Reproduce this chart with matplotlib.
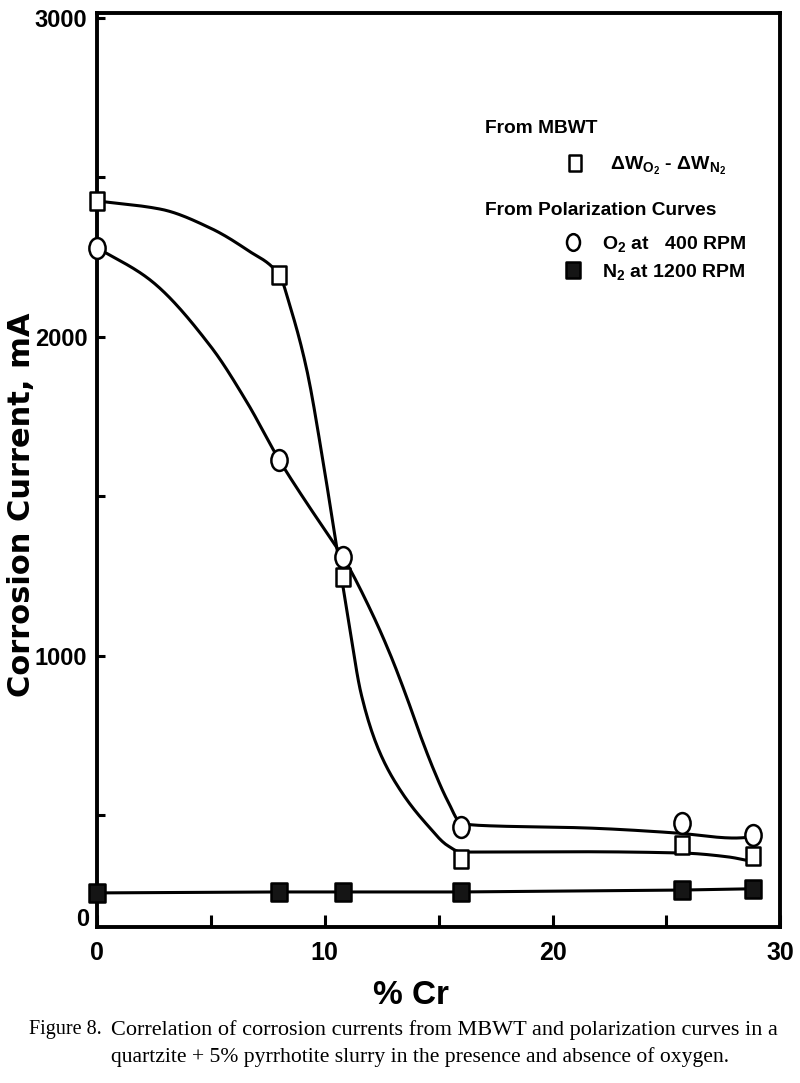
import numpy as np
import matplotlib.pyplot as plt
from matplotlib.path import Path
from matplotlib.lines import Line2D

plt.rcParams['font.family'] = ['Liberation Sans', 'DejaVu Sans']
plt.rcParams['mathtext.fontset'] = 'custom'
plt.rcParams['mathtext.rm'] = 'Liberation Sans:bold'
plt.rcParams['mathtext.it'] = 'Liberation Sans:bold'
plt.rcParams['mathtext.bf'] = 'Liberation Sans:bold'

# measured points (% Cr vs corrosion current, mA)
cr = [0, 8, 10.8, 16, 25.7, 28.8]
mbwt = [2426, 2194, 1248, 364, 407, 373]
o2_400 = [2279, 1614, 1310, 464, 476, 439]
n2_1200 = [257, 260, 260, 260, 266, 270]

# hand drawn fit curves
mbwt_fit_x = [0, 2.8, 5.0, 6.6, 8.0, 8.5, 9.2, 9.9, 10.5, 11.0, 11.6, 12.4, 13.4, 14.5, 15.4, 16.0, 21.3, 25.7, 27.7, 28.8]
mbwt_fit_y = [2426, 2400, 2340, 2272, 2194, 2090, 1900, 1620, 1350, 1130, 880, 700, 570, 470, 405, 385, 386, 382, 370, 355]
o2_fit_x = [0, 2.3, 5.0, 6.6, 8.0, 9.2, 10.3, 10.8, 12.1, 12.9, 13.6, 14.2, 14.8, 15.4, 16.0, 17.0, 21.3, 25.4, 28.0, 28.8]
o2_fit_y = [2279, 2180, 1969, 1793, 1614, 1480, 1364, 1310, 1130, 1000, 870, 750, 640, 545, 475, 468, 461, 445, 429, 432]

caption1 = "Correlation of corrosion currents from MBWT and polarization curves in a"
caption2 = "quartzite + 5% pyrrhotite slurry in the presence and absence of oxygen."


def smooth(x, y, n=400):
    # monotone cubic (Fritsch-Carlson) through the traced points
    x = np.asarray(x, float)
    y = np.asarray(y, float)
    h = np.diff(x)
    d = np.diff(y) / h
    m = np.zeros_like(y)
    m[0], m[-1] = d[0], d[-1]
    for k in range(1, len(x) - 1):
        if d[k - 1] * d[k] > 0:
            w1 = 2 * h[k] + h[k - 1]
            w2 = h[k] + 2 * h[k - 1]
            m[k] = (w1 + w2) / (w1 / d[k - 1] + w2 / d[k])
    xs = np.linspace(x[0], x[-1], n)
    i = np.clip(np.searchsorted(x, xs) - 1, 0, len(h) - 1)
    t = (xs - x[i]) / h[i]
    ys = ((2 * t**3 - 3 * t**2 + 1) * y[i] + (t**3 - 2 * t**2 + t) * h[i] * m[i]
          + (-2 * t**3 + 3 * t**2) * y[i + 1] + (t**3 - t**2) * h[i] * m[i + 1])
    return xs, ys


# slightly tall markers, as in the scanned figure
box = Path([(-0.42, -0.5), (0.42, -0.5), (0.42, 0.5), (-0.42, 0.5), (-0.42, -0.5)],
           [Path.MOVETO, Path.LINETO, Path.LINETO, Path.LINETO, Path.CLOSEPOLY])
uc = Path.unit_circle()
oval = Path(uc.vertices * [0.78, 1.0], uc.codes)

fig = plt.figure(figsize=(8, 10.83), dpi=100)
ax = fig.add_axes([0.1213, 0.144, 0.854, 0.844])

lw = 2.2
ax.plot(*smooth(mbwt_fit_x, mbwt_fit_y), color='black', lw=lw, zorder=2)
ax.plot(*smooth(o2_fit_x, o2_fit_y), color='black', lw=lw, zorder=2)
ax.plot(cr, n2_1200, color='black', lw=lw, zorder=2)

mk = dict(ls='none', mec='black', mew=1.8, clip_on=False, zorder=5)
ax.plot(cr, mbwt, marker=box, ms=12.5, mfc='white', **mk)
ax.plot(cr, o2_400, marker=oval, ms=15, mfc='white', **mk)
ax.plot(cr, n2_1200, marker=box, ms=13, mfc='#151515', **mk)

ax.set_xlim(0, 30)
ax.set_ylim(150, 3015)
ax.set_xticks([0, 10, 20, 30])
ax.set_xticks([5, 15, 25], minor=True)
ax.set_yticks([1000, 2000, 3000])
ax.set_yticks([500, 1500, 2500], minor=True)

for s in ax.spines.values():
    s.set_linewidth(2.8)
ax.tick_params(which='both', direction='in', width=2.2, colors='black')
ax.tick_params(axis='x', which='both', length=9, pad=10, labelsize=18)
ax.tick_params(axis='y', which='both', length=6, pad=7, labelsize=17)
for lab in ax.get_xticklabels() + ax.get_yticklabels():
    lab.set_fontweight('bold')
ax.text(-0.012, 0.008, "0", transform=ax.transAxes, ha='right', va='center',
        fontsize=17, fontweight='bold')

ax.set_ylabel("Corrosion Current, mA", family='DejaVu Sans', fontsize=22, fontweight='bold')
ax.yaxis.set_label_coords(-0.09, 0.462)
ax.set_xlabel("% Cr", fontsize=24, fontweight='bold')
ax.xaxis.set_label_coords(0.46, -0.058)

# legend: two headers, each over its own group of entries
ax.text(0.568, 0.874, "From MBWT", transform=ax.transAxes, fontsize=13.8,
        fontweight='bold', va='center')
ax.text(0.568, 0.784, "From Polarization Curves", transform=ax.transAxes, fontsize=13.8,
        fontweight='bold', va='center')

h_sq = Line2D([], [], ls='none', marker=box, ms=11, mfc='white', mec='black', mew=1.8)
h_o2 = Line2D([], [], ls='none', marker=oval, ms=12, mfc='white', mec='black', mew=1.8)
h_n2 = Line2D([], [], ls='none', marker=box, ms=12, mfc='#151515', mec='black', mew=1.8)
lab_font = dict(weight='bold', size=14)
fs_px = 14 * 100 / 72

leg1 = ax.legend([h_sq], [r'$\Delta$W$_{\mathrm{O}_2}$ - $\Delta$W$_{\mathrm{N}_2}$'],
                 prop=lab_font, loc='center left', bbox_to_anchor=((565 - 97) / 683, 0.833),
                 frameon=False, borderpad=0, borderaxespad=0,
                 handlelength=1.0, handletextpad=(610 - 565 - fs_px) / fs_px)
ax.add_artist(leg1)
ax.legend([h_o2, h_n2], [r'O$_2$ at   400 RPM', r'N$_2$ at 1200 RPM'],
          prop=lab_font, loc='center left', bbox_to_anchor=((563 - 97) / 683, 0.732),
          frameon=False, borderpad=0, borderaxespad=0, labelspacing=0.41,
          handlelength=1.0, handletextpad=(602 - 563 - fs_px) / fs_px)

fig.text(0.036, 0.049, "Figure 8.", family='Liberation Serif', fontsize=14.5, va='center')
fig.text(0.139, 0.049, caption1, family='Liberation Serif', fontsize=16, va='center')
fig.text(0.139, 0.024, caption2, family='Liberation Serif', fontsize=15.6, va='center')

fig.savefig('out.png', dpi=100)
